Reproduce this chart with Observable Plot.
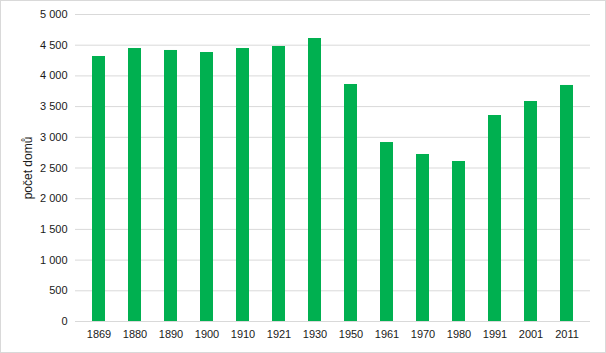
<!DOCTYPE html>
<html>
<head>
<meta charset="utf-8">
<script src="https://cdn.jsdelivr.net/npm/d3@7"></script>
<script src="https://cdn.jsdelivr.net/npm/@observablehq/plot@0.6"></script>
<style>
  html, body { margin: 0; padding: 0; background: #fff; }
  #chart svg { display: block; outline: 1px solid #d9d9d9; outline-offset: -1px; }
</style>
</head>
<body>
<div id="chart"></div>
<script>
const years = ["1869","1880","1890","1900","1910","1921","1930","1950","1961","1970","1980","1991","2001","2011"];
const houses = [4316, 4446, 4414, 4381, 4446, 4479, 4609, 3860, 2915, 2720, 2606, 3355, 3583, 3844];
const yTicks = [0, 500, 1000, 1500, 2000, 2500, 3000, 3500, 4000, 4500, 5000];
const yLabel = "počet domů";

const data = years.map((y, i) => ({year: y, value: houses[i]}));
const locale = d3.formatLocale({decimal: ",", thousands: "\u00a0", grouping: [3], currency: ["", ""]});
const fmt = locale.format(",d");

const chart = Plot.plot({
  width: 606,
  height: 353,
  marginTop: 14,
  marginBottom: 32,
  marginLeft: 75,
  marginRight: 16,
  style: {fontFamily: "'Liberation Sans', Arial, sans-serif", fontSize: "11px", color: "#1a1a1a", background: "#fff"},
  x: {domain: years, paddingInner: 0.64, paddingOuter: 0.32, label: null},
  y: {domain: [0, 5000], label: null},
  marks: [
    Plot.gridY(yTicks, {stroke: "#d9d9d9", strokeOpacity: 1}),
    Plot.barY(data, {x: "year", y: "value", fill: "#00B050"}),
    Plot.axisY({ticks: yTicks, tickFormat: fmt, tickSize: 0, tickPadding: 8, label: null, fontSize: 11}),
    Plot.axisX({tickSize: 0, tickPadding: 9, label: null, fontSize: 11}),
    Plot.text([yLabel], {frameAnchor: "left", textAnchor: "middle", dx: -47, rotate: -90, fontSize: 12, fill: "#1a1a1a"})
  ]
});
document.getElementById("chart").appendChild(chart);
</script>
</body>
</html>
